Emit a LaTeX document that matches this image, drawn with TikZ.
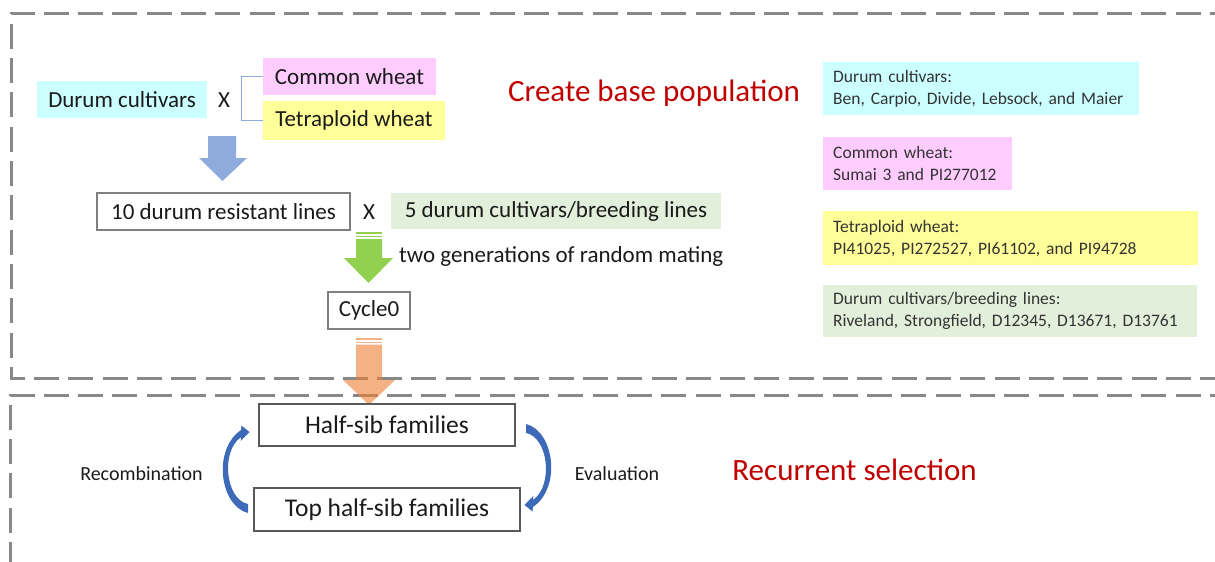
\documentclass[tikz,border=0pt]{standalone}
\usepackage{fontspec}
\setmainfont{Carlito}
\usetikzlibrary{calc}
\definecolor{cyanbox}{HTML}{CCFFFF}
\definecolor{pinkbox}{HTML}{FFCCFF}
\definecolor{yellowbox}{HTML}{FFFF99}
\definecolor{greenbox}{HTML}{E2EFDA}
\definecolor{bluearrow}{HTML}{8FAADC}
\definecolor{greenarrow}{HTML}{92D050}
\definecolor{orangearrow}{HTML}{ED7D31}
\definecolor{curveblue}{HTML}{3D6AB8}
\definecolor{titlered}{HTML}{C00000}
\definecolor{dashgray}{HTML}{888888}
\definecolor{txt}{HTML}{1A1A1A}
\definecolor{infotxt}{HTML}{333333}
\definecolor{boxgray}{HTML}{7F7F7F}
\definecolor{boxdark}{HTML}{595959}
\begin{document}
\begin{tikzpicture}[x=1pt,y=-1pt,
  every node/.style={text=txt},
  colbox/.style={inner sep=0pt, font=\fontsize{23}{27}\selectfont},
  linebox/.style={draw=#1, inner sep=0pt, font=\fontsize{23}{27}\selectfont},
  loopbox/.style={draw=boxdark, line width=2pt, inner sep=0pt, font=\fontsize{25.5}{30}\selectfont},
  infobox/.style={anchor=north west, inner xsep=10pt, inner ysep=0pt, align=left, text=infotxt, font=\fontsize{17.5}{22}\selectfont},
  title/.style={text=titlered, font=\fontsize{31}{36}\selectfont},
  side/.style={font=\fontsize{20}{24}\selectfont},
  dashframe/.style={draw=dashgray, line width=3pt, dash pattern=on 25pt off 9.3pt},
  curvearrow/.style={fill=curveblue},
]
\useasboundingbox (0,0) rectangle (1215,562);
\clip (0,0) rectangle (1215,562);

% dashed frames
\draw[dashframe] (1235,13) -- (11,13) -- (11,378) -- (1235,378);
\draw[dashframe] (1235,395) -- (10,395) -- (10,580);

% top part
\node[colbox, fill=cyanbox, minimum width=170pt, minimum height=37pt] (durum) at (122,99.5) {Durum cultivars};
\node[colbox] (x1) at (224,100) {X};
\node[colbox, fill=pinkbox, minimum width=173pt, minimum height=37pt] (common) at (349.5,76.5) {Common wheat};
\node[colbox, fill=yellowbox, minimum width=182pt, minimum height=39pt] (tetra) at (354,120.5) {Tetraploid wheat};
\draw[bluearrow, line width=1pt] (common.west) -- ++(-21,0) |- (tetra.west);

\fill[bluearrow] (208,136) -- (236,136) -- (236,158) -- (247,158) -- (222.5,181) -- (199,158) -- (208,158) -- cycle;

\node[linebox=boxgray, line width=1.3pt, minimum width=253pt, minimum height=37pt] (resist) at (223.5,211.5) {10 durum resistant lines};
\node[colbox] (x2) at (369,212) {X};
\node[colbox, fill=greenbox, minimum width=330pt, minimum height=36pt] (five) at (556,211) {5 durum cultivars/breeding lines};

\fill[greenarrow] (356,232) rectangle (382,234);
\fill[greenarrow] (356,235.8) rectangle (382,237.3);
\fill[greenarrow] (356,239) -- (382,239) -- (382,258) -- (393,258) -- (368.5,283) -- (344,258) -- (356,258) -- cycle;
\node[colbox, anchor=west] (mating) at (399,256) {two generations of random mating};

\node[linebox=boxgray, line width=1.3pt, minimum width=82pt, minimum height=37pt] (cycle) at (369,310.5) {Cycle0};

\begin{scope}[fill opacity=0.6]
\fill[orangearrow] (356,338) rectangle (382,340);
\fill[orangearrow] (356,341.5) rectangle (382,343);
\fill[orangearrow] (356,344.5) -- (382,344.5) -- (382,380) -- (395,380) -- (369,405) -- (343,380) -- (356,380) -- cycle;
\end{scope}

\node[title] (create) at (654,93) {Create base population};

% info boxes
\node[infobox, fill=cyanbox, minimum width=316pt, minimum height=53pt, text width=296pt] (infodurum) at (823,62) {Durum cultivars:\\Ben, Carpio, Divide, Lebsock, and Maier};
\node[infobox, fill=pinkbox, minimum width=189pt, minimum height=53pt, text width=169pt] (infocommon) at (823,137) {Common wheat:\\Sumai 3 and PI277012};
\node[infobox, fill=yellowbox, minimum width=375pt, minimum height=54pt, text width=355pt] (infotetra) at (823,211) {Tetraploid wheat:\\PI41025, PI272527, PI61102, and PI94728};
\node[infobox, fill=greenbox, minimum width=374pt, minimum height=52pt, text width=354pt] (infofive) at (823,285) {Durum cultivars/breeding lines:\\Riveland, Strongfield, D12345, D13671, D13761};

% bottom part
\node[loopbox, minimum width=256pt, minimum height=42pt] (half) at (387,425) {Half-sib families};
\node[loopbox, minimum width=266pt, minimum height=43pt] (top) at (387,509.5) {Top half-sib families};
\node[side] (recomb) at (141.5,474) {Recombination};
\node[side] (eval) at (617,474) {Evaluation};
\node[title] (recurrent) at (854.5,470) {Recurrent selection};

\fill[curvearrow] (248,513) .. controls (220,506) and (212,450) .. (241,430)
  -- (241.5,425.5) -- (249.5,432) -- (240.7,441) -- (241,437)
  .. controls (220,452) and (226,500) .. (248,504) -- cycle;
\fill[curvearrow, rotate around={180:(387,468.5)}] (248,513) .. controls (220,506) and (212,450) .. (241,430)
  -- (241.5,425.5) -- (249.5,432) -- (240.7,441) -- (241,437)
  .. controls (220,452) and (226,500) .. (248,504) -- cycle;
\end{tikzpicture}
\end{document}
